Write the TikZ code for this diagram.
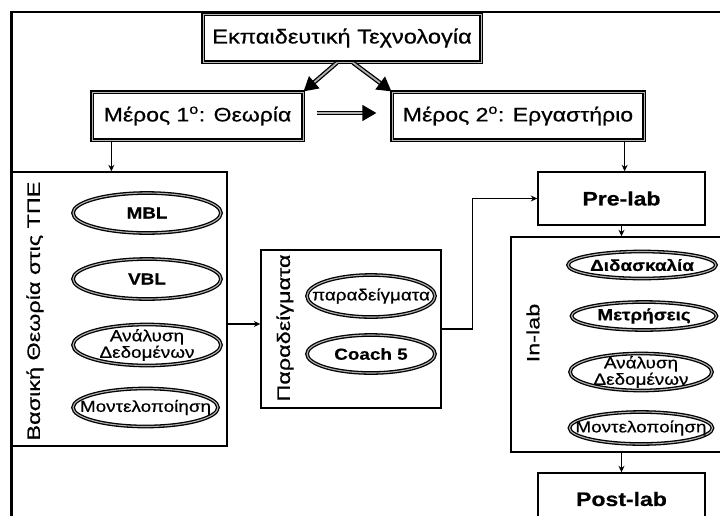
\documentclass[tikz,border=0pt]{standalone}
\usepackage{fontspec}
\setmainfont{Liberation Sans}[FakeStretch=1.18, FakeBold=0.6]
\newfontfamily\vfont{Liberation Sans}[FakeStretch=1.3, FakeBold=0.5]
\usetikzlibrary{arrows.meta,shapes.geometric,calc}
\tikzset{
  topbox/.style={draw=black, line width=1.3pt, double=gray!55, double distance=0.8pt, inner sep=0pt},
  plainbox/.style={draw=black, line width=1.4pt, inner sep=0pt},
  ell/.style={ellipse, draw=black, line width=1.3pt, double=gray!60, double distance=1.1pt, inner sep=0pt},
  etxt/.style={align=center, inner sep=0pt, font=\fontsize{16}{16.5}\selectfont},
  etxtb/.style={align=center, inner sep=0pt, font=\bfseries\fontsize{16}{17}\selectfont},
  vtext/.style={rotate=90, inner sep=0pt},
  conn/.style={line width=1.5pt, -{Stealth[length=6.5pt,width=6pt]}},
  bigarrow/.style={line width=1.3pt, double=gray!60, double distance=1.8pt, -{Triangle[length=14pt,width=16pt]}}
}
\begin{document}
\begin{tikzpicture}[x=1pt,y=-1pt]
\useasboundingbox (0,0) rectangle (720,515);
\clip (0,0) rectangle (720,515);
\fill[white] (0,0) rectangle (720,515);
% frame
\draw[line width=2.5pt] (11.5,520) -- (11.5,12) -- (725,12);

% top row
\node[topbox, minimum width=278pt, minimum height=48pt, font=\fontsize{20}{21}\selectfont] (top) at (342,38) {Εκπαιδευτική Τεχνολογία};
\node[topbox, minimum width=211pt, minimum height=48pt, font=\fontsize{19.5}{21}\selectfont] (m1) at (197.5,116) {Μέρος 1\textsuperscript{ο}: Θεωρία};
\node[topbox, minimum width=252pt, minimum height=48pt, font=\fontsize{19.5}{21}\selectfont] (m2) at (518,116) {Μέρος 2\textsuperscript{ο}: Εργαστήριο};

\draw[bigarrow] ([xshift=-5pt]top.south) -- (m1.north east);
\draw[bigarrow] ([xshift=11pt]top.south) -- (m2.north west);
\draw[bigarrow] ([xshift=13pt,yshift=3pt]m1.east) -- ([xshift=-15pt,yshift=3pt]m2.west);

% basic theory box
\node[plainbox, minimum width=215pt, minimum height=274pt] (basic) at (119.5,309) {};
\node[vtext, font=\vfont\fontsize{18}{19}\selectfont] (basict) at (35,311) {Βασική Θεωρία στις ΤΠΕ};
\node[ell, minimum width=148pt, minimum height=40pt] (mbl) at (147,213) {};
\node[etxtb] (mblt) at (mbl) {MBL};
\node[ell, minimum width=148pt, minimum height=40pt] (vbl) at (147,279) {};
\node[etxtb] (vblt) at (vbl) {VBL};
\node[ell, minimum width=148pt, minimum height=41pt] (an1) at (147,345) {};
\node[etxt] (an1t) at (an1) {Ανάλυση\\Δεδομένων};
\node[ell, minimum width=145pt, minimum height=38pt] (mo1) at (145.5,407.5) {};
\node[etxt] (mo1t) at (mo1) {Μοντελοποίηση};

\draw[conn] ([xshift=20pt]m1.south west) -- ([xshift=20pt]m1.south west |- basic.north);

% examples box
\node[plainbox, minimum width=180pt, minimum height=158pt] (par) at (351,329) {};
\node[vtext, font=\vfont\fontsize{18}{19}\selectfont] (part) at (285,328) {Παραδείγματα};
\node[ell, minimum width=128pt, minimum height=42pt] (ex) at (371,296) {};
\node[etxt] (ext) at (ex) {παραδείγματα};
\node[ell, minimum width=128pt, minimum height=38pt] (coach) at (371,354) {};
\node[etxtb] (coacht) at (coach) {Coach 5};

\draw[conn] (basic.east |- 0,324) -- (par.west |- 0,324);

% pre-lab
\node[plainbox, minimum width=167pt, minimum height=53pt, font=\bfseries\fontsize{19.5}{21}\selectfont] (pre) at (621.5,198.5) {Pre-lab};
\draw[conn] ([xshift=-20pt]m2.south east) -- ([xshift=-20pt]m2.south east |- pre.north);
\draw[conn] (par.east) -- ++(31,0) |- (pre.west);

% in-lab
\node[plainbox, minimum width=211pt, minimum height=215pt] (inlab) at (616.5,344.5) {};
\node[vtext, font=\vfont\fontsize{18}{19}\selectfont] (inlabt) at (533,333) {In-lab};
\node[ell, minimum width=148pt, minimum height=27pt] (did) at (642,265) {};
\node[etxtb] (didt) at (did) {Διδασκαλία};
\node[ell, minimum width=145pt, minimum height=28pt] (met) at (644,316) {};
\node[etxtb] (mett) at (met) {Μετρήσεις};
\node[ell, minimum width=142pt, minimum height=37pt] (an2) at (641,372) {};
\node[etxt] (an2t) at (an2) {Ανάλυση\\Δεδομένων};
\node[ell, minimum width=143pt, minimum height=32pt] (mo2) at (641,428) {};
\node[etxt] (mo2t) at (mo2) {Μοντελοποίηση};

\draw[conn] (pre.south) -- (pre.south |- inlab.north);

% post-lab
\node[plainbox, minimum width=167pt, minimum height=52pt, font=\bfseries\fontsize{19.5}{21}\selectfont] (post) at (621.5,499) {Post-lab};
\draw[conn] (post.north |- inlab.south) -- (post.north);
\end{tikzpicture}
\end{document}
